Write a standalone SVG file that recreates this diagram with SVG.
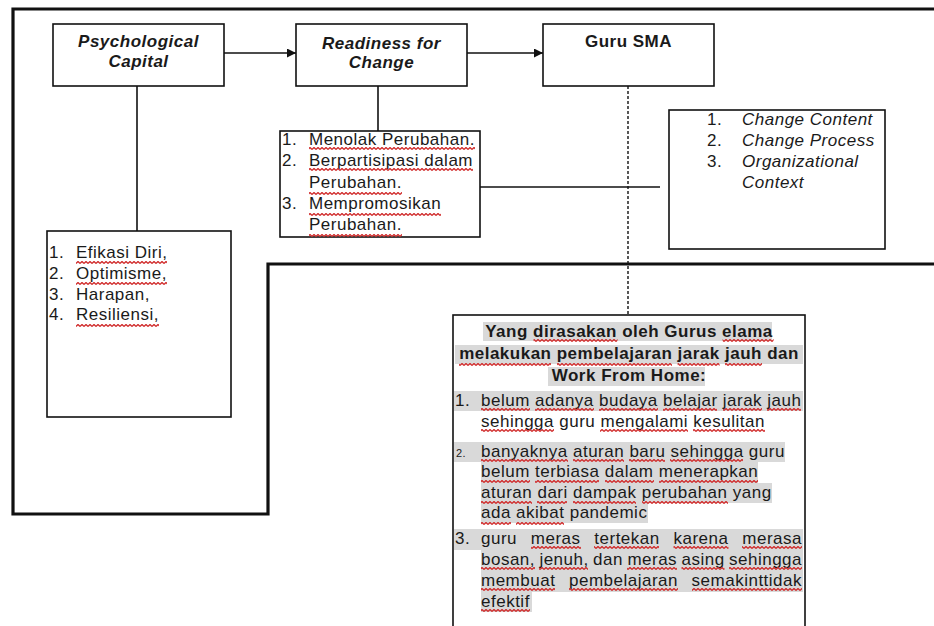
<svg xmlns="http://www.w3.org/2000/svg" width="934" height="626" viewBox="0 0 934 626">
<style>
.t{font-family:"Liberation Sans",Arial,sans-serif;font-size:17px;letter-spacing:0.5px;fill:#1a1a1a}
.b{font-weight:bold}
.i{font-style:italic}
.c{text-anchor:middle}
.box{fill:#fff;stroke:#111;stroke-width:1.6}
.ln{stroke:#111;stroke-width:1.6;fill:none}
.hl{fill:#d9d9d9}
.sq{fill:url(#wave)}
</style>
<defs>
<marker id="ah" viewBox="0 0 10 10" refX="10" refY="5" markerWidth="9" markerHeight="9" markerUnits="userSpaceOnUse" orient="auto">
<path d="M0,0 L10,5 L0,10 z" fill="#111"/>
</marker>
<pattern id="wave" width="4" height="3" patternUnits="userSpaceOnUse">
<path d="M0,2.5 L2,0.5 L4,2.5" fill="none" stroke="#d02a2a" stroke-width="1.3"/>
</pattern>
</defs>
<rect width="934" height="626" fill="#fff"/>
<g id="frame">
<path d="M936,9 H13 V514 H268 V264 H936" fill="none" stroke="#111" stroke-width="3.2"/>
</g>
<g id="connectors">
<line class="ln" x1="224" y1="53" x2="296" y2="53" marker-end="url(#ah)"/>
<line class="ln" x1="467" y1="53" x2="543" y2="53" marker-end="url(#ah)"/>
<line class="ln" x1="137" y1="86" x2="137" y2="231"/>
<line class="ln" x1="378" y1="86" x2="378" y2="131"/>
<line class="ln" x1="480" y1="187" x2="660" y2="187"/>
<line x1="628" y1="86" x2="628" y2="315" stroke="#111" stroke-width="1.4" stroke-dasharray="3,2"/>
</g>
<g id="psych">
<rect class="box" x="53" y="24" width="171" height="62"/>
<text class="t b i c" x="138.5" y="47">Psychological</text>
<text class="t b i c" x="138.5" y="67">Capital</text>
</g>
<g id="readiness">
<rect class="box" x="296" y="24" width="171" height="62"/>
<text class="t b i c" x="381.5" y="48.5">Readiness for</text>
<text class="t b i c" x="381.5" y="68">Change</text>
</g>
<g id="guru">
<rect class="box" x="543" y="24" width="171" height="62"/>
<text class="t b c" x="628.5" y="47">Guru SMA</text>
</g>
<g id="efikasi-list">
<rect class="box" x="47" y="231" width="184" height="186"/>
<text class="t" x="49" y="258">1.</text><text class="t" x="76" y="258">Efikasi Diri,</text>
<text class="t" x="49" y="279">2.</text><text class="t" x="76" y="279">Optimisme,</text>
<text class="t" x="49" y="300">3.</text><text class="t" x="76" y="300">Harapan,</text>
<text class="t" x="49" y="320">4.</text><text class="t" x="76" y="320">Resiliensi,</text>
<rect class="sq" x="76" y="261" width="91" height="3"/>
<rect class="sq" x="76" y="282" width="91" height="3"/>
<rect class="sq" x="76" y="324" width="83" height="3"/>
</g>
<g id="readiness-list">
<rect class="box" x="280" y="131" width="200" height="106"/>
<text class="t" x="282" y="145">1.</text><text class="t" x="309" y="145">Menolak Perubahan.</text>
<text class="t" x="282" y="166">2.</text><text class="t" x="309" y="166">Berpartisipasi dalam</text>
<text class="t" x="309" y="188">Perubahan.</text>
<text class="t" x="282" y="209">3.</text><text class="t" x="309" y="209">Mempromosikan</text>
<text class="t" x="309" y="230">Perubahan.</text>
<rect class="sq" x="309" y="147" width="166" height="3"/>
<rect class="sq" x="309" y="168" width="164" height="3"/>
<rect class="sq" x="309" y="192" width="93" height="3"/>
<rect class="sq" x="309" y="213" width="132" height="3"/>
<rect class="sq" x="309" y="234" width="93" height="3"/>
</g>
<g id="change-list">
<rect class="box" x="669" y="110" width="216" height="139"/>
<text class="t" x="707" y="125">1.</text><text class="t i" x="742" y="125">Change Content</text>
<text class="t" x="707" y="146">2.</text><text class="t i" x="742" y="146">Change Process</text>
<text class="t" x="707" y="167">3.</text><text class="t i" x="742" y="167">Organizational</text>
<text class="t i" x="742" y="188">Context</text>
</g>
<g id="wfh-box">
<rect class="box" x="453" y="315" width="352" height="330"/>
<rect class="hl" x="483" y="322" width="289" height="19"/>
<rect class="hl" x="455" y="345" width="348" height="19"/>
<rect class="hl" x="548" y="367" width="157" height="19"/>
<rect class="hl" x="454" y="391" width="349" height="20"/>
<rect class="hl" x="454" y="442" width="331" height="20"/>
<rect class="hl" x="481" y="462" width="277" height="21"/>
<rect class="hl" x="481" y="483" width="291" height="20"/>
<rect class="hl" x="481" y="503" width="167" height="20"/>
<rect class="hl" x="454" y="529" width="349" height="21"/>
<rect class="hl" x="481" y="550" width="322" height="21"/>
<rect class="hl" x="481" y="571" width="322" height="21"/>
<rect class="hl" x="481" y="592" width="51" height="20"/>
<text class="t b c" x="629" y="337">Yang dirasakan oleh Gurus elama</text>
<text class="t b c" x="629" y="359">melakukan pembelajaran jarak jauh dan</text>
<text class="t b c" x="629" y="381">Work From Home:</text>
<text class="t" x="455" y="406">1.</text>
<text class="t" x="481" y="406">belum adanya budaya belajar jarak jauh</text>
<text class="t" x="481" y="427">sehingga guru mengalami kesulitan</text>
<text class="t" x="456" y="457" style="font-size:11px">2.</text>
<text class="t" x="481" y="457">banyaknya aturan baru sehingga guru</text>
<text class="t" x="481" y="477">belum terbiasa dalam menerapkan</text>
<text class="t" x="481" y="498">aturan dari dampak perubahan yang</text>
<text class="t" x="481" y="518">ada akibat pandemic</text>
<text class="t" x="455" y="544">3.</text>
<text class="t" y="544"><tspan x="481">guru</tspan><tspan x="530.8">meras</tspan><tspan x="594.3">tertekan</tspan><tspan x="673.5">karena</tspan><tspan x="742.3">merasa</tspan></text>
<text class="t" y="565"><tspan x="481">bosan,</tspan><tspan x="539.4">jenuh,</tspan><tspan x="593.1">dan</tspan><tspan x="627.4">meras</tspan><tspan x="681.5">asing</tspan><tspan x="729">sehingga</tspan></text>
<text class="t" y="586"><tspan x="481">membuat</tspan><tspan x="569">pembelajaran</tspan><tspan x="691.6">semakinttidak</tspan></text>
<text class="t" x="481" y="607">efektif</text>
<rect class="sq" x="533.5" y="339" width="84" height="3"/>
<rect class="sq" x="722.6" y="339" width="51" height="3"/>
<rect class="sq" x="459" y="363" width="92" height="3"/>
<rect class="sq" x="557" y="363" width="115" height="3"/>
<rect class="sq" x="677.6" y="363" width="42" height="3"/>
<rect class="sq" x="725" y="363" width="37" height="3"/>
<rect class="sq" x="481" y="408" width="49" height="3"/>
<rect class="sq" x="535" y="408" width="59" height="3"/>
<rect class="sq" x="599" y="408" width="59" height="3"/>
<rect class="sq" x="663" y="408" width="54" height="3"/>
<rect class="sq" x="723" y="408" width="39" height="3"/>
<rect class="sq" x="767" y="408" width="34" height="3"/>
<rect class="sq" x="481" y="429" width="73" height="3"/>
<rect class="sq" x="600" y="429" width="88" height="3"/>
<rect class="sq" x="693" y="429" width="72" height="3"/>
<rect class="sq" x="481" y="459" width="87" height="3"/>
<rect class="sq" x="573" y="459" width="51" height="3"/>
<rect class="sq" x="629" y="459" width="36" height="3"/>
<rect class="sq" x="670" y="459" width="73" height="3"/>
<rect class="sq" x="481" y="480" width="49" height="3"/>
<rect class="sq" x="535" y="480" width="64" height="3"/>
<rect class="sq" x="605" y="480" width="49" height="3"/>
<rect class="sq" x="659" y="480" width="99" height="3"/>
<rect class="sq" x="481" y="501" width="51" height="3"/>
<rect class="sq" x="537" y="501" width="30" height="3"/>
<rect class="sq" x="573" y="501" width="63" height="3"/>
<rect class="sq" x="642" y="501" width="86" height="3"/>
<rect class="sq" x="481" y="522" width="30" height="3"/>
<rect class="sq" x="516" y="522" width="48" height="3"/>
<rect class="sq" x="531" y="546" width="50" height="3"/>
<rect class="sq" x="594" y="546" width="65" height="3"/>
<rect class="sq" x="673.5" y="546" width="55" height="3"/>
<rect class="sq" x="742" y="546" width="60" height="3"/>
<rect class="sq" x="481" y="567" width="54" height="3"/>
<rect class="sq" x="539" y="567" width="49" height="3"/>
<rect class="sq" x="627" y="567" width="50" height="3"/>
<rect class="sq" x="681.5" y="567" width="43" height="3"/>
<rect class="sq" x="729" y="567" width="73" height="3"/>
<rect class="sq" x="481" y="588" width="74" height="3"/>
<rect class="sq" x="569" y="588" width="109" height="3"/>
<rect class="sq" x="692" y="588" width="110" height="3"/>
<rect class="sq" x="481" y="609" width="49" height="3"/>
</g>
</svg>
